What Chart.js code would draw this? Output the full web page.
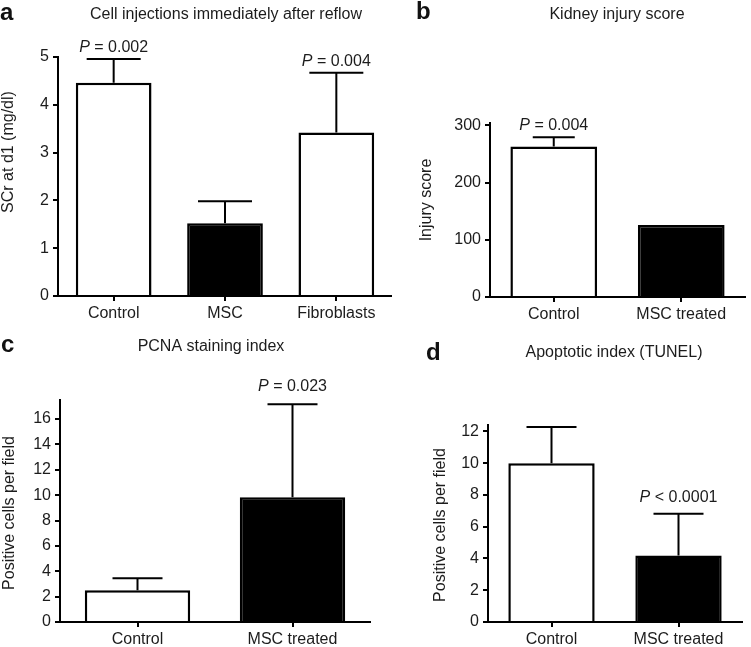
<!DOCTYPE html>
<html lang="en">
<head>
<meta charset="UTF-8">
<title>MSC kidney panels</title>
<script src="https://cdn.jsdelivr.net/npm/chart.js"></script>
<style>
  body { margin: 0; background: #fff; }
  #wrap { position: relative; width: 751px; height: 647px; overflow: hidden; }
  canvas { position: absolute; }
</style>
</head>
<body>
<div id="wrap">
  <canvas id="chartA" width="392" height="330" style="left:0px;top:0px"></canvas>
  <canvas id="chartB" width="359" height="330" style="left:392px;top:0px"></canvas>
  <canvas id="chartC" width="392" height="317" style="left:0px;top:330px"></canvas>
  <canvas id="chartD" width="359" height="317" style="left:392px;top:330px"></canvas>
</div>

<script>
// panel a - serum creatinine
const catsA = ['Control', 'MSC', 'Fibroblasts'];
const scrMean = [4.46, 1.52, 3.42];
const scrErr = [0.5, 0.46, 1.25];
const pA = ['= 0.002', '', '= 0.004'];
const ticksA = [0, 1, 2, 3, 4, 5];

// panel b - injury score
const catsB = ['Control', 'MSC treated'];
const injuryMean = [263, 126];
const injuryErr = [16, 0];
const pB = ['= 0.004', ''];
const ticksB = [0, 100, 200, 300];

// panel c - PCNA
const catsC = ['Control', 'MSC treated'];
const pcnaMean = [2.5, 9.83];
const pcnaErr = [0.94, 7.34];
const pC = ['', '= 0.023'];
const ticksC = [0, 2, 4, 6, 8, 10, 12, 14, 16];

// panel d - TUNEL
const catsD = ['Control', 'MSC treated'];
const tunelMean = [10.0, 4.19];
const tunelErr = [2.27, 2.63];
const pD = ['', '< 0.0001'];
const ticksD = [0, 2, 4, 6, 8, 10, 12];

const FONT = "'Liberation Sans', Arial, Helvetica, sans-serif";
const TXT = '#1c1c1c';

// error bars + P values drawn from the y scale
const errorBars = {
    id: 'errorBars',
    afterDatasetsDraw(chart, args, opts) {
        const ctx = chart.ctx;
        const yScale = chart.scales.y;
        const meta = chart.getDatasetMeta(0);
        ctx.save();
        ctx.strokeStyle = '#000';
        ctx.lineWidth = 2;
        meta.data.forEach(function (bar, i) {
            const top = yScale.getPixelForValue(opts.means[i] + opts.errs[i]);
            if (opts.errs[i] > 0) {
                ctx.beginPath();
                ctx.moveTo(bar.x, bar.y);
                ctx.lineTo(bar.x, top);
                ctx.moveTo(bar.x - opts.cap / 2, top);
                ctx.lineTo(bar.x + opts.cap / 2, top);
                ctx.stroke();
            }
            const p = opts.pvals[i];
            if (p) {
                ctx.fillStyle = TXT;
                ctx.textBaseline = 'middle';
                ctx.textAlign = 'left';
                ctx.font = 'italic 16px ' + FONT;
                const wP = ctx.measureText('P').width;
                ctx.font = '16px ' + FONT;
                const rest = ' ' + p;
                const wR = ctx.measureText(rest).width;
                const x0 = bar.x - (wP + wR) / 2;
                const ty = top - opts.gap;
                ctx.font = 'italic 16px ' + FONT;
                ctx.fillText('P', x0, ty);
                ctx.font = '16px ' + FONT;
                ctx.fillText(rest, x0 + wP, ty);
            }
        });
        ctx.restore();
    }
};

// panel letter, title and y axis title (positions in page coordinates)
const panelText = {
    id: 'panelText',
    afterDraw(chart, args, opts) {
        const ctx = chart.ctx;
        const ox = opts.ox, oy = opts.oy;
        ctx.save();
        ctx.fillStyle = '#111';
        ctx.textBaseline = 'middle';
        ctx.textAlign = 'left';
        ctx.font = 'bold 24px ' + FONT;
        ctx.fillText(opts.letter, opts.letterX - ox, opts.letterY - oy);
        ctx.fillStyle = TXT;
        ctx.textAlign = 'center';
        ctx.font = '16px ' + FONT;
        ctx.fillText(opts.title, opts.titleX - ox, opts.titleY - oy);
        ctx.translate(opts.yTitleX - ox, opts.yTitleY - oy);
        ctx.rotate(-Math.PI / 2);
        ctx.fillText(opts.yTitle, 0, 0);
        ctx.restore();
    }
};

function makePanel(id, p) {
    return new Chart(document.getElementById(id), {
        type: 'bar',
        data: {
            labels: p.cats,
            datasets: [{
                data: p.means,
                backgroundColor: p.fills,
                borderColor: '#000',
                borderWidth: 2.5,
                barPercentage: 0.68,
                categoryPercentage: 1
            }]
        },
        options: {
            responsive: false,
            animation: false,
            devicePixelRatio: 1,
            layout: { padding: { left: 0, right: p.padR, top: p.padT, bottom: p.padB } },
            plugins: {
                legend: { display: false },
                tooltip: { enabled: false },
                errorBars: { means: p.means, errs: p.errs, pvals: p.pvals, cap: p.cap, gap: p.gap },
                panelText: p.text
            },
            scales: {
                x: {
                    offset: true,
                    grid: { offset: false, drawOnChartArea: false, tickLength: 5, tickColor: '#000', lineWidth: 2 },
                    border: { color: '#000', width: 2 },
                    ticks: { color: TXT, font: { family: FONT, size: 16 }, padding: 3, maxRotation: 0 },
                    afterFit: function (s) { s.height = p.xH; }
                },
                y: {
                    min: 0,
                    max: p.max,
                    bounds: 'data',
                    grid: { drawOnChartArea: false, tickLength: 5, tickColor: '#000', lineWidth: 2 },
                    border: { color: '#000', width: 2 },
                    ticks: { color: TXT, font: { family: FONT, size: 16 }, padding: 4 },
                    afterBuildTicks: function (s) { s.ticks = p.ticks.map(function (v) { return { value: v }; }); },
                    afterFit: function (s) { s.width = p.yW; }
                }
            }
        },
        plugins: [errorBars, panelText]
    });
}

makePanel('chartA', {
    cats: catsA, means: scrMean, errs: scrErr, pvals: pA, ticks: ticksA, max: 5,
    fills: ['#fff', '#000', '#fff'], cap: 54, gap: 11,
    yW: 58, xH: 30, padR: 0, padT: 57, padB: 4,
    text: { ox: 0, oy: 0, letter: 'a', letterX: 0, letterY: 13,
            title: 'Cell injections immediately after reflow', titleX: 226, titleY: 15,
            yTitle: 'SCr at d1 (mg/dl)', yTitleX: 9, yTitleY: 152 }
});

makePanel('chartB', {
    cats: catsB, means: injuryMean, errs: injuryErr, pvals: pB, ticks: ticksB, max: 304,
    fills: ['#fff', '#000'], cap: 42, gap: 12,
    yW: 98, xH: 30, padR: 6, padT: 123, padB: 3,
    text: { ox: 392, oy: 0, letter: 'b', letterX: 416, letterY: 12,
            title: 'Kidney injury score', titleX: 617, titleY: 15,
            yTitle: 'Injury score', yTitleX: 427, yTitleY: 200 }
});

makePanel('chartC', {
    cats: catsC, means: pcnaMean, errs: pcnaErr, pvals: pC, ticks: ticksC, max: 17.5,
    fills: ['#fff', '#000'], cap: 50, gap: 18,
    yW: 60, xH: 25, padR: 22, padT: 70, padB: 0,
    text: { ox: 0, oy: 330, letter: 'c', letterX: 1, letterY: 345,
            title: 'PCNA staining index', titleX: 211, titleY: 347,
            yTitle: 'Positive cells per field', yTitleX: 10, yTitleY: 513 }
});

makePanel('chartD', {
    cats: catsD, means: tunelMean, errs: tunelErr, pvals: pD, ticks: ticksD, max: 12.4,
    fills: ['#fff', '#000'], cap: 50, gap: 16,
    yW: 96, xH: 25, padR: 9, padT: 95, padB: 0,
    text: { ox: 392, oy: 330, letter: 'd', letterX: 426, letterY: 353,
            title: 'Apoptotic index (TUNEL)', titleX: 614, titleY: 353,
            yTitle: 'Positive cells per field', yTitleX: 441, yTitleY: 525 }
});
</script>
</body>
</html>
